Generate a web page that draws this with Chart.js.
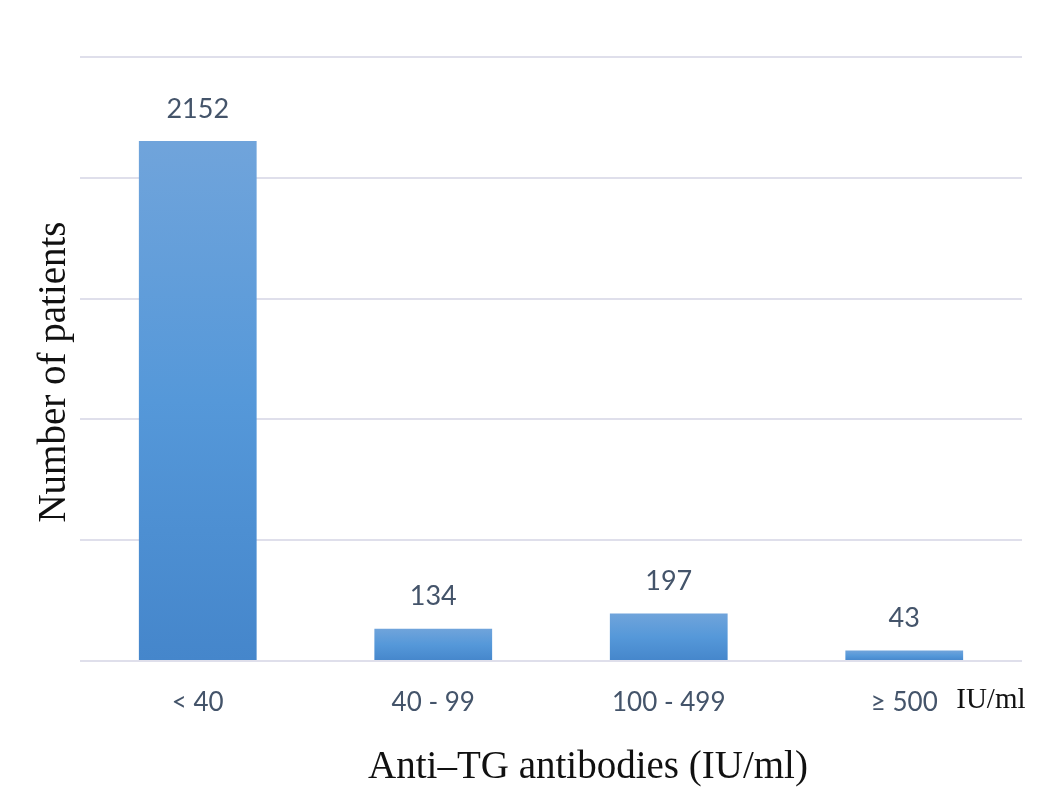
<!DOCTYPE html>
<html>
<head>
<meta charset="utf-8">
<script src="https://cdn.jsdelivr.net/npm/chart.js@4/dist/chart.umd.min.js"></script>
<style>
  html, body { margin: 0; padding: 0; background: #fff; }
  #wrap { width: 1060px; height: 798px; }
</style>
</head>
<body>
<div id="wrap"><canvas id="tgChart"></canvas></div>
<script>
const categories = ['< 40', '40 - 99', '100 - 499', '≥ 500'];
const patients = [2152, 134, 197, 43];
const xTitle = 'Anti\u2013TG antibodies (IU/ml)';
const yTitle = 'Number of patients';
const unitNote = 'IU/ml';

const LABEL_COLOR = '#44546a';
const SERIF = '"Liberation Serif", "DejaVu Serif", serif';

// gradient per bar, light at top, darker at the base
function barFill(ctx) {
    const chart = ctx.chart;
    const y = chart.scales.y;
    if (!y || ctx.dataIndex === undefined) return '#5b9bd5';
    const top = y.getPixelForValue(patients[ctx.dataIndex]);
    const base = y.getPixelForValue(0);
    if (!isFinite(top) || !isFinite(base) || base - top < 1) return '#5b9bd5';
    const g = chart.ctx.createLinearGradient(0, top, 0, base);
    g.addColorStop(0, '#70a4db');
    g.addColorStop(0.5, '#5598d9');
    g.addColorStop(1, '#4586cb');
    return g;
}

const extraText = {
    id: 'extraText',
    afterDraw(chart) {
        const c = chart.ctx;
        const meta = chart.getDatasetMeta(0);
        const area = chart.chartArea;
        const x = chart.scales.x;
        c.save();
        c.font = '27px Lato';
        c.fillStyle = LABEL_COLOR;
        c.textAlign = 'center';
        c.textBaseline = 'middle';
        meta.data.forEach((bar, i) => {
            c.fillText(String(patients[i]), bar.x, bar.y - 32);
        });

        // unit note next to the last category
        c.font = '29px ' + SERIF;
        c.fillStyle = '#111';
        c.textAlign = 'left';
        c.fillText(unitNote, x.getPixelForValue(3) + 52, 700);

        // axis titles (the original sits a bit off-centre)
        c.font = '39px ' + SERIF;
        c.textAlign = 'center';
        c.fillText(xTitle, (area.left + area.right) / 2 + 37, 768);

        c.translate(55, (area.top + area.bottom) / 2 + 13);
        c.rotate(-Math.PI / 2);
        c.fillText(yTitle, 0, 0);
        c.restore();
    }
};

new Chart(document.getElementById('tgChart'), {
    type: 'bar',
    data: {
        labels: categories,
        datasets: [{
            label: yTitle,
            data: patients,
            backgroundColor: barFill,
            borderWidth: 0,
            categoryPercentage: 1,
            barPercentage: 0.5
        }]
    },
    options: {
        responsive: true,
        maintainAspectRatio: false,
        animation: false,
        layout: { padding: { top: 57, right: 38, left: 0, bottom: 0 } },
        plugins: {
            legend: { display: false },
            tooltip: { enabled: false }
        },
        scales: {
            x: {
                grid: { display: false },
                border: { display: false },
                ticks: {
                    color: LABEL_COLOR,
                    font: { family: 'Lato', size: 26 },
                    padding: 18,
                    maxRotation: 0
                },
                afterFit(scale) { scale.height = 137; }
            },
            y: {
                min: 0,
                max: 2500,
                ticks: { stepSize: 500, display: false },
                grid: { color: '#dfdfeb', lineWidth: 2, drawTicks: false },
                border: { display: false },
                afterFit(scale) { scale.width = 80; }
            }
        }
    },
    plugins: [extraText]
});
</script>
</body>
</html>
